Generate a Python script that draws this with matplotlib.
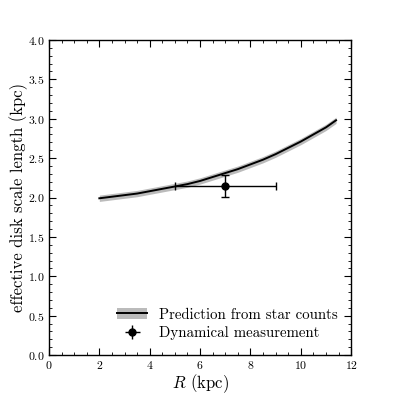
import matplotlib
matplotlib.use('Agg')
import matplotlib.pyplot as plt
from matplotlib.ticker import MultipleLocator
from matplotlib.patches import Patch
from matplotlib.lines import Line2D

plt.rcParams['font.family'] = 'serif'
plt.rcParams['font.serif'] = ['cmr10']
plt.rcParams['mathtext.fontset'] = 'cm'
plt.rcParams['axes.formatter.use_mathtext'] = True

# Prediction from star counts
R_pred = [2.0, 2.5, 3.0, 3.5, 4.0, 4.5, 5.0, 5.5, 6.0, 6.5, 7.0, 7.5, 8.0, 8.5,
          9.0, 9.5, 10.0, 10.5, 11.0, 11.4]
h_pred = [1.99, 2.01, 2.03, 2.05, 2.08, 2.11, 2.14, 2.17, 2.21, 2.26, 2.31, 2.36,
          2.42, 2.48, 2.55, 2.63, 2.71, 2.80, 2.89, 2.98]
h_band = 0.04

# Dynamical measurement
R_dyn = [7.0]
h_dyn = [2.15]
R_err = [2.0]
h_err = [0.14]

fig = plt.figure(figsize=(3.95, 3.95), dpi=100)
ax = fig.add_axes([0.124, 0.101, 0.765, 0.798])

lo = [h - h_band for h in h_pred]
hi = [h + h_band for h in h_pred]
ax.fill_between(R_pred, lo, hi, color='#bbbbbb', lw=0)
ax.plot(R_pred, h_pred, color='black', lw=1.4)
ax.errorbar(R_dyn, h_dyn, xerr=R_err, yerr=h_err, fmt='o', color='black',
            ms=5, elinewidth=1, capsize=3)

ax.set_xlim(0, 12)
ax.set_ylim(0, 4)
ax.xaxis.set_major_locator(MultipleLocator(2))
ax.xaxis.set_minor_locator(MultipleLocator(0.5))
ax.yaxis.set_major_locator(MultipleLocator(0.5))
ax.yaxis.set_minor_locator(MultipleLocator(0.1))
ax.tick_params(which='both', direction='in', top=True, right=True, labelsize=8.5)
ax.tick_params(which='major', length=5, pad=3)
ax.tick_params(which='minor', length=2.5)
for s in ax.spines.values():
    s.set_linewidth(1.0)

ax.set_xlabel('$R$ (kpc)', fontsize=12, labelpad=1)
ax.set_ylabel('effective disk scale length (kpc)', fontsize=12, labelpad=0)

handles = [(Patch(facecolor='#bbbbbb', lw=0), Line2D([], [], color='black', lw=1.4)),
           ax.errorbar([], [], xerr=[], yerr=[], fmt='o', color='black', ms=5,
                       elinewidth=1, capsize=3)]
ax.legend(handles, ['Prediction from star counts', 'Dynamical measurement'],
          loc='lower right', bbox_to_anchor=(1.0, 0.005), frameon=False,
          fontsize=10.7, handlelength=2, labelspacing=0.3)

fig.savefig('out.png', dpi=100)
